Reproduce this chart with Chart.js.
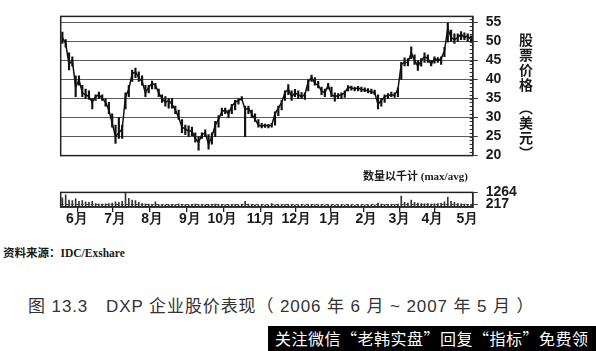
<!DOCTYPE html>
<html>
<head>
<meta charset="utf-8">
<script src="https://cdn.jsdelivr.net/npm/chart.js@4.4.1/dist/chart.umd.min.js"></script>
<style>
  body { margin: 0; background: #fff; }
  #wrap { position: relative; width: 596px; height: 351px; overflow: hidden; background: #fff;
          font-family: "Liberation Sans", Arial, sans-serif; color: #1a1a1a; }
  canvas { position: absolute; left: 0; }
  .t { position: absolute; white-space: pre; line-height: 1; }
  .vt { left: 516px; writing-mode: vertical-rl; font: bold 14px "Noto Sans CJK SC", sans-serif; letter-spacing: 1px; }
  #ytitle1 { top: 33px; }
  #ytitle2 { top: 101px; }
  #volnote { left: 363px; top: 167px; font: bold 11px "Liberation Serif", "Noto Sans CJK SC", serif; }
  #source { left: 3px; top: 244px; font: bold 11.5px "Liberation Serif", "Noto Sans CJK SC", serif; }
  #caption { left: 28px; top: 292px; font: 17px "Liberation Sans", "Noto Sans CJK SC", sans-serif; color: #333; letter-spacing: 0.9px; }
  #promo { left: 268px; top: 326px; width: 328px; height: 25px; background: #000; color: #fff;
           font: 16px "Noto Sans CJK SC", sans-serif; line-height: 25px; padding-left: 7px; box-sizing: border-box; letter-spacing: 0.5px; }
</style>
</head>
<body>
<div id="wrap">
  <canvas id="price" width="596" height="172" style="top:0"></canvas>
  <canvas id="vol" width="596" height="60" style="top:176px"></canvas>
  <div class="t vt" id="ytitle1">股票价格</div>
  <div class="t vt" id="ytitle2">（美元）</div>
  <div class="t" id="volnote">数量以千计 (max/avg)</div>
  <div class="t" id="source">资料来源：IDC/Exshare</div>
  <div class="t" id="caption">图 13.3　DXP 企业股价表现（ 2006 年 6 月 ~ 2007 年 5 月 ）</div>
  <div class="t" id="promo">关注微信“老韩实盘”回复“指标”免费领</div>
</div>
<script>
// one sample = about two trading days, June 2006 - May 2007
const highs = [52.5, 50.5, 47, 46, 41, 41, 38.5, 37.5, 37, 35,
  36, 36.7, 36, 35, 34, 31, 28, 30, 28, 36.5,
  38.5, 42.5, 43, 42, 41, 38.5, 38.5, 39.6, 39, 37.5,
  36, 35.5, 35, 35, 33, 32, 29.5, 28, 27.8, 27.5,
  26, 25, 26, 26.8, 25.5, 26, 29, 30.5, 32.5, 32.5,
  32, 33.5, 34.5, 35, 35.5, 33, 33, 32, 31, 29.5,
  28.5, 28.3, 28.2, 28.5, 31.5, 33, 34.5, 37, 38.7, 37,
  37.4, 37, 36.6, 36.5, 40, 41.2, 40.5, 39.5, 38, 37.5,
  39, 38, 36.5, 36.3, 36.5, 37, 38.4, 38.3, 38, 38.2,
  38, 37.8, 37.6, 37.5, 37.2, 36, 35, 36, 36.3, 36.7,
  36.5, 37.8, 44.5, 45.7, 45.5, 48.6, 46.5, 45, 45.5, 47,
  46.5, 45, 46, 45.8, 46, 48.5, 54.9, 53, 52, 52,
  52.6, 52.3, 52, 51.5];
const lows = [49.5, 48.5, 42.5, 43.5, 35.5, 38.5, 35.5, 35, 34.8, 32.3,
  34.5, 35, 34.5, 33, 31, 27.5, 23.2, 24.5, 24.5, 32.3,
  35.5, 39.5, 40.5, 39.5, 38.5, 35.5, 36.5, 37.5, 37.5, 35.5,
  34, 33, 32.5, 32.5, 31, 29.5, 26, 25.5, 25, 25.2,
  23.5, 21.4, 24.5, 25, 21.7, 23, 25, 27.5, 30.5, 31,
  30, 31, 32, 33.5, 34.5, 25, 31, 30, 29, 27.5,
  27.3, 27.4, 27.3, 27.5, 28, 30.5, 32, 34.5, 36, 34.5,
  35.5, 35, 35, 34.8, 37, 39.5, 38.5, 37.8, 36, 35.5,
  37.5, 35.5, 34.3, 35, 35, 35.3, 37, 37.2, 37, 37,
  36.8, 36.8, 36.5, 36.3, 36, 32.3, 33, 34, 35, 35.5,
  35.3, 35.5, 40, 43.6, 43.6, 45.5, 44, 42.4, 43.5, 44.5,
  44.5, 43.6, 44.3, 44.5, 44, 46, 49.8, 50, 49.5, 50,
  50.5, 50.5, 50, 50];
const closes = [51, 49.5, 44, 45, 38, 40, 36.5, 36, 35.5, 34,
  35.5, 36, 35, 34, 32, 28.5, 25, 26, 27, 35.5,
  37.5, 41.5, 42, 40.5, 39.5, 36.5, 38, 39, 38.5, 36.5,
  35, 34, 34.5, 33.5, 32, 30, 27.5, 27, 26.5, 26.5,
  24.5, 23.5, 25.5, 26, 23, 25, 28, 29.5, 31.5, 32,
  31, 33, 34, 34.5, 35, 32, 32.5, 31, 29.5, 28,
  27.8, 28, 27.8, 28, 31, 32.5, 34, 36.5, 37.5, 35.5,
  36.5, 36, 35.5, 36, 39.5, 40.5, 39, 38.5, 37, 36.5,
  38.5, 36, 35.5, 35.8, 36, 36.5, 38, 37.8, 37.5, 37.8,
  37.3, 37.3, 37, 36.8, 36.5, 33.5, 34.5, 35.5, 35.8, 36,
  35.8, 37.5, 44, 44.5, 44.5, 47, 45, 43.5, 45, 46,
  45.5, 44, 45.5, 45, 45.5, 47.5, 53.5, 51, 50.5, 51,
  52, 51, 51.5, 50.5];
// volume in thousands
const volumes = [800, 1050, 600, 550, 700, 500, 550, 450, 400, 500,
  300, 250, 250, 280, 300, 350, 450, 400, 500, 1264,
  750, 600, 550, 400, 300, 280, 250, 200, 450, 200,
  180, 200, 220, 180, 200, 250, 220, 200, 180, 200,
  250, 220, 200, 180, 230, 200, 250, 220, 200, 180,
  200, 220, 200, 180, 200, 500, 250, 200, 180, 170,
  160, 170, 150, 300, 180, 200, 170, 200, 220, 180,
  170, 160, 180, 170, 200, 220, 180, 170, 160, 170,
  180, 160, 170, 150, 160, 170, 180, 160, 150, 160,
  150, 160, 150, 170, 160, 350, 250, 220, 200, 220,
  200, 250, 950, 400, 350, 600, 400, 350, 300, 280,
  300, 250, 280, 300, 350, 450, 850, 500, 400, 300,
  280, 250, 220, 200];
const volMax = 1264;
const volAvg = 217;
// month axis, in sample units
const monthStart = [9.8, 20.4, 32.4, 42.7, 54.4, 65.0, 75.5, 85.7, 95.7, 107.1, 117.1];
const monthLabels = ['6月', '7月', '8月', '9月', '10月', '11月', '12月', '1月', '2月', '3月', '4月', '5月'];
const monthLabelPos = [4.4, 15.9, 27.0, 38.4, 48.1, 59.8, 70.4, 80.6, 91.5, 101.4, 111.4, 121.9];

const xMin = -0.5, xMax = closes.length - 0.5;
const tickFont = { family: '"Liberation Sans", Arial, sans-serif', size: 14, weight: 'bold' };
const ink = '#1a1a1a';

// box round the plot area
const frame = {
  id: 'frame',
  afterDraw(chart) {
    const { ctx, chartArea: a } = chart;
    ctx.save();
    ctx.strokeStyle = '#222';
    ctx.lineWidth = 1.5;
    ctx.strokeRect(a.left, a.top, a.right - a.left, a.bottom - a.top);
    ctx.restore();
  }
};

// small inside ticks on the right edge, every dollar
const minorTicks = {
  id: 'minorTicks',
  afterDraw(chart) {
    const { ctx, chartArea: a } = chart;
    const y = chart.scales.y;
    ctx.save();
    ctx.strokeStyle = '#333';
    ctx.lineWidth = 1;
    for (let v = 21; v <= 56; v++) {
      const py = Math.round(y.getPixelForValue(v)) + 0.5;
      ctx.beginPath();
      ctx.moveTo(a.right - 3, py);
      ctx.lineTo(a.right, py);
      ctx.stroke();
    }
    ctx.restore();
  }
};

new Chart(document.getElementById('price'), {
  type: 'bar',
  data: {
    datasets: [
      {
        type: 'line',
        data: closes.map((c, i) => ({ x: i, y: c })),
        borderColor: '#111',
        borderWidth: 1.5,
        pointRadius: 0,
        tension: 0
      },
      {
        type: 'bar',
        data: highs.map((h, i) => ({ x: i, y: [lows[i], h] })),
        backgroundColor: '#111',
        barThickness: 1.5
      }
    ]
  },
  options: {
    responsive: false,
    animation: false,
    devicePixelRatio: 1,
    layout: { padding: { left: 60.7, top: 14, bottom: 8, right: 0 } },
    plugins: { legend: { display: false }, tooltip: { enabled: false } },
    scales: {
      x: { type: 'linear', min: xMin, max: xMax, offset: false, display: false },
      y: {
        position: 'right',
        min: 20,
        max: 56.6,
        ticks: { stepSize: 5, includeBounds: false, font: tickFont, color: ink, padding: 8 },
        grid: { color: '#5a5a5a', lineWidth: 1, tickLength: 5, tickColor: '#333' },
        border: { color: '#222', width: 1.5 },
        afterFit: s => { s.width = 123.3; }
      }
    }
  },
  plugins: [frame, minorTicks]
});

new Chart(document.getElementById('vol'), {
  type: 'bar',
  data: {
    datasets: [
      {
        type: 'bar',
        data: volumes.map((v, i) => ({ x: i, y: v })),
        backgroundColor: '#333',
        barThickness: 1
      },
      {
        type: 'line',
        data: [{ x: xMin, y: volAvg }, { x: xMax, y: volAvg }],
        borderColor: '#444',
        borderWidth: 1,
        borderDash: [3, 2],
        pointRadius: 0
      }
    ]
  },
  options: {
    responsive: false,
    animation: false,
    devicePixelRatio: 1,
    layout: { padding: { left: 60.7, top: 10, bottom: 0, right: 0 } },
    plugins: { legend: { display: false }, tooltip: { enabled: false } },
    scales: {
      x: {
        type: 'linear', min: xMin, max: xMax, offset: false,
        afterBuildTicks: s => {
          s.ticks = monthStart.concat(monthLabelPos).map(v => ({ value: v }));
        },
        ticks: {
          autoSkip: false, maxRotation: 0, font: tickFont, color: ink, padding: -1,
          callback: (v, i) => i >= monthStart.length ? monthLabels[i - monthStart.length] : ''
        },
        grid: {
          drawOnChartArea: false, tickLength: 5, lineWidth: 1.3,
          color: c => c.index < monthStart.length ? '#222' : 'rgba(0,0,0,0)'
        },
        border: { color: '#222', width: 1.5 },
        afterFit: s => { s.height = 29; }
      },
      y: {
        position: 'right', min: 0, max: volMax,
        afterBuildTicks: s => { s.ticks = [{ value: volAvg }, { value: volMax }]; },
        ticks: { autoSkip: false, font: tickFont, color: ink, padding: 8, callback: v => String(v) },
        grid: { drawOnChartArea: false, tickLength: 5, tickColor: '#333' },
        border: { color: '#222', width: 1.5 },
        afterFit: s => { s.width = 123.3; }
      }
    }
  },
  plugins: [frame]
});
</script>
</body>
</html>
